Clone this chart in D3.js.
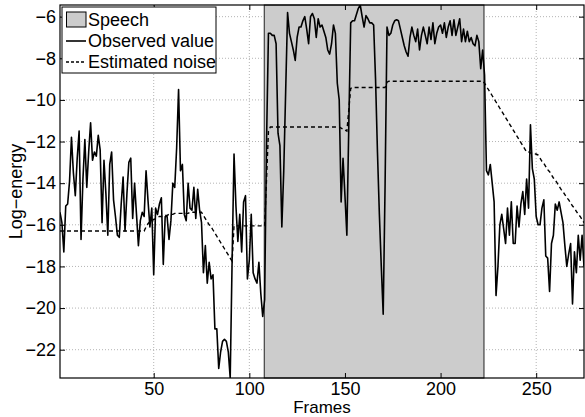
<!DOCTYPE html>
<html>
<head>
<meta charset="utf-8">
<script src="https://cdn.jsdelivr.net/npm/d3@7"></script>
<style>
  body { margin: 0; background: #fff; }
  svg { display: block; font-family: "Liberation Sans", Arial, sans-serif; }
</style>
</head>
<body>
<svg id="chart" width="585" height="417"></svg>
<script>
// log-energy per frame (frames 1..275)
const observed = [
  -15.4, -15.9, -17.3, -15.1, -15.0, -13.9, -11.8, -13.5, -14.6, -12.8,
  -11.5, -16.7, -13.8, -11.9, -14.2, -12.5, -11.1, -12.9, -12.5, -12.7,
  -11.7, -12.4, -15.9, -12.9, -14.5, -16.5, -13.1, -12.5, -14.8, -15.6,
  -16.5, -16.6, -15.0, -13.7, -16.3, -14.5, -13.0, -12.8, -15.7, -14.0,
  -15.5, -17.0, -15.8, -15.4, -15.6, -13.4, -14.8, -16.1, -15.2, -18.4,
  -15.2, -15.5, -15.0, -14.7, -17.9, -15.6, -15.6, -16.7, -15.8, -14.0,
  -14.2, -12.3, -9.5, -13.4, -13.1, -15.5, -15.8, -14.0, -15.2, -15.3,
  -14.2, -15.7, -14.3, -15.3, -15.9, -18.3, -17.0, -18.8, -17.8, -18.6,
  -18.4, -21.0, -21.0, -22.9, -22.1, -21.6, -21.5, -21.6, -22.1, -23.36,
  -17.7, -12.6, -15.1, -16.8, -15.5, -17.3, -14.9, -14.6, -18.6, -17.7,
  -15.5, -18.3, -18.6, -18.8, -17.8, -19.3, -20.4, -19.6, -12.0, -6.8,
  -6.8, -6.9, -6.9, -7.3, -11.6, -12.2, -16.1, -13.4, -9.6, -5.8,
  -6.8, -7.2, -7.6, -8.1, -7.0, -6.5, -6.5, -6.2, -6.0, -6.6,
  -7.3, -6.0, -5.85, -6.1, -7.0, -6.1, -6.5, -6.4, -6.7, -7.0,
  -7.6, -7.8, -7.3, -6.4, -6.8, -9.2, -10.0, -14.9, -12.8, -14.6,
  -16.5, -11.3, -6.3, -6.2, -6.2, -5.9, -5.6, -5.44, -6.0, -6.5,
  -5.95, -6.1, -6.3, -6.3, -6.4, -9.0, -12.5, -15.5, -18.0, -20.3,
  -14.0, -6.5, -6.9, -6.8, -6.4, -6.2, -6.15, -6.2, -6.6, -7.0,
  -7.4, -7.7, -7.9, -7.0, -6.5, -6.9, -7.2, -6.6, -7.6, -6.9,
  -6.5, -6.9, -7.3, -6.5, -7.1, -6.3, -7.3, -6.8, -6.5, -6.4,
  -6.8, -6.3, -7.0, -6.5, -6.2, -6.9, -6.15, -6.9, -6.5, -6.1,
  -7.2, -6.6, -7.2, -6.7, -7.2, -7.0, -7.3, -7.4, -6.9, -7.2,
  -8.5, -7.6, -8.8, -13.4, -13.6, -13.1, -14.0, -14.9, -19.4, -18.0,
  -16.0, -15.5, -16.2, -16.9, -15.2, -16.5, -14.9, -16.9, -16.9, -15.1,
  -16.1, -15.0, -14.4, -15.5, -13.8, -15.2, -11.2, -13.3, -13.8, -15.6,
  -16.0, -16.0, -15.2, -14.8, -17.5, -17.6, -19.2, -16.9, -16.5, -15.0,
  -15.3, -14.9, -15.4, -15.9, -17.0, -18.0, -17.4, -16.9, -19.8, -17.3,
  -18.3, -16.5, -17.7, -16.5, -18.0
];

// estimated noise level per frame
const noise = [
  -16.3, -16.3, -16.3, -16.3, -16.3, -16.3, -16.3, -16.3, -16.3, -16.3,
  -16.3, -16.3, -16.3, -16.3, -16.3, -16.3, -16.3, -16.3, -16.3, -16.3,
  -16.3, -16.3, -16.3, -16.3, -16.3, -16.3, -16.3, -16.3, -16.3, -16.3,
  -16.3, -16.3, -16.3, -16.3, -16.3, -16.3, -16.3, -16.3, -16.3, -16.3,
  -16.3, -16.3, -16.3, -16.3, -16.3, -16.1, -15.95, -15.85, -15.8, -15.75,
  -15.7, -15.65, -15.6, -15.6, -15.6, -15.55, -15.55, -15.5, -15.5, -15.5,
  -15.45, -15.45, -15.45, -15.45, -15.45, -15.45, -15.45, -15.45, -15.4, -15.4,
  -15.4, -15.4, -15.4, -15.4, -15.4, -15.55, -15.7, -15.85, -16.0, -16.1,
  -16.25, -16.4, -16.55, -16.7, -16.85, -17.0, -17.15, -17.3, -17.45, -17.6,
  -17.75, -16.05, -16.05, -16.05, -16.05, -16.05, -16.05, -16.05, -16.05, -16.05,
  -16.05, -16.05, -16.05, -16.05, -16.05, -16.05, -16.05, -16.05, -13.8, -11.5,
  -11.3, -11.3, -11.3, -11.3, -11.3, -11.3, -11.3, -11.3, -11.3, -11.3,
  -11.3, -11.3, -11.3, -11.3, -11.3, -11.3, -11.3, -11.3, -11.3, -11.3,
  -11.3, -11.3, -11.3, -11.3, -11.3, -11.3, -11.3, -11.3, -11.3, -11.3,
  -11.3, -11.3, -11.3, -11.3, -11.3, -11.3, -11.3, -11.35, -11.4, -11.45,
  -11.5, -10.5, -9.45, -9.4, -9.4, -9.4, -9.4, -9.4, -9.4, -9.4,
  -9.4, -9.4, -9.4, -9.4, -9.4, -9.4, -9.4, -9.4, -9.4, -9.4,
  -9.4, -9.15, -9.1, -9.1, -9.1, -9.1, -9.1, -9.1, -9.1, -9.1,
  -9.1, -9.1, -9.1, -9.1, -9.1, -9.1, -9.1, -9.1, -9.1, -9.1,
  -9.1, -9.1, -9.1, -9.1, -9.1, -9.1, -9.1, -9.1, -9.1, -9.1,
  -9.1, -9.1, -9.1, -9.1, -9.1, -9.1, -9.1, -9.1, -9.1, -9.1,
  -9.1, -9.1, -9.1, -9.1, -9.1, -9.1, -9.1, -9.1, -9.1, -9.1,
  -9.1, -9.1, -9.2, -9.35, -9.5, -9.65, -9.8, -9.95, -10.1, -10.25,
  -10.4, -10.55, -10.7, -10.85, -11.0, -11.15, -11.3, -11.45, -11.6, -11.75,
  -11.9, -12.05, -12.2, -12.35, -12.5, -12.5, -12.55, -12.55, -12.6, -12.6,
  -12.65, -12.8, -12.95, -13.05, -13.2, -13.35, -13.45, -13.6, -13.75, -13.85,
  -14.0, -14.15, -14.3, -14.4, -14.55, -14.7, -14.8, -14.95, -15.1, -15.2,
  -15.35, -15.5, -15.6, -15.75, -15.9
];

const speechRegion = [107.8, 222.7];
const xTicks = [50, 100, 150, 200, 250];
const yTicks = [-22, -20, -18, -16, -14, -12, -10, -8, -6];
const legendLabels = ["Speech", "Observed value", "Estimated noise"];

document.addEventListener("DOMContentLoaded", function () {
  const left = 60, right = 584, top = 5, bottom = 378;

  const svg = d3.select("#chart");

  const x = d3.scaleLinear().domain([1, observed.length]).range([left, right]);
  const y = d3.scaleLinear().domain(d3.extent(observed)).range([bottom, top]);

  svg.append("defs").append("clipPath").attr("id", "plotClip")
    .append("rect")
    .attr("x", left).attr("y", top)
    .attr("width", right - left).attr("height", bottom - top);

  // dotted grid
  const grid = svg.append("g").attr("stroke", "#b4b4b4").attr("stroke-dasharray", "1,2");
  grid.selectAll(".gx").data(xTicks).enter().append("line")
    .attr("x1", (d) => x(d)).attr("x2", (d) => x(d))
    .attr("y1", top).attr("y2", bottom);
  grid.selectAll(".gy").data(yTicks).enter().append("line")
    .attr("x1", left).attr("x2", right)
    .attr("y1", (d) => y(d)).attr("y2", (d) => y(d));

  // speech patch
  svg.append("rect")
    .attr("x", x(speechRegion[0]))
    .attr("y", top)
    .attr("width", x(speechRegion[1]) - x(speechRegion[0]))
    .attr("height", bottom - top)
    .attr("fill", "#cccccc")
    .attr("stroke", "#222")
    .attr("stroke-width", 1);

  const line = d3.line()
    .x((d, i) => x(i + 1))
    .y((d) => y(d));

  const plot = svg.append("g").attr("clip-path", "url(#plotClip)");

  plot.append("path")
    .datum(observed)
    .attr("d", line)
    .attr("fill", "none")
    .attr("stroke", "#000")
    .attr("stroke-width", 1.6)
    .attr("stroke-linejoin", "round");

  plot.append("path")
    .datum(noise)
    .attr("d", line)
    .attr("fill", "none")
    .attr("stroke", "#000")
    .attr("stroke-width", 1.4)
    .attr("stroke-dasharray", "4,3");

  // axes
  const xAxis = svg.append("g")
    .attr("transform", "translate(0," + bottom + ")")
    .call(d3.axisBottom(x).tickValues(xTicks).tickSize(-5).tickSizeOuter(0).tickPadding(4));
  const yAxis = svg.append("g")
    .attr("transform", "translate(" + left + ",0)")
    .call(d3.axisLeft(y).tickValues(yTicks).tickSize(-5).tickSizeOuter(0).tickPadding(4));
  svg.append("g")
    .attr("transform", "translate(0," + top + ")")
    .call(d3.axisTop(x).tickValues(xTicks).tickSize(-5).tickSizeOuter(0).tickFormat(""));
  svg.append("g")
    .attr("transform", "translate(" + right + ",0)")
    .call(d3.axisRight(y).tickValues(yTicks).tickSize(-5).tickSizeOuter(0).tickFormat(""));

  svg.selectAll(".domain").remove();
  svg.selectAll(".tick line").attr("stroke", "#000");
  [xAxis, yAxis].forEach((g) => {
    g.selectAll("text")
      .attr("font-size", 18)
      .attr("font-family", "Liberation Sans, Arial, sans-serif")
      .attr("fill", "#000");
  });

  svg.append("rect")
    .attr("x", left).attr("y", top)
    .attr("width", right - left).attr("height", bottom - top)
    .attr("fill", "none")
    .attr("stroke", "#000")
    .attr("stroke-width", 1.2);

  // axis labels
  svg.append("text")
    .attr("x", (left + right) / 2)
    .attr("y", 413)
    .attr("text-anchor", "middle")
    .attr("font-size", 17)
    .text("Frames");

  svg.append("text")
    .attr("transform", "translate(22," + (top + bottom) / 2 + ") rotate(-90)")
    .attr("text-anchor", "middle")
    .attr("font-size", 18)
    .text("Log\u2212energy");

  // legend
  const legend = svg.append("g");
  legend.append("rect")
    .attr("x", 62).attr("y", 7)
    .attr("width", 154).attr("height", 66)
    .attr("fill", "#fff")
    .attr("stroke", "#000")
    .attr("stroke-width", 1);

  const rowY = [19.5, 41, 62];
  legend.append("rect")
    .attr("x", 66.5).attr("y", rowY[0] - 7.5)
    .attr("width", 19.5).attr("height", 15)
    .attr("fill", "#cccccc")
    .attr("stroke", "#000");
  legend.append("line")
    .attr("x1", 66).attr("x2", 86)
    .attr("y1", rowY[1]).attr("y2", rowY[1])
    .attr("stroke", "#000").attr("stroke-width", 1.6);
  legend.append("line")
    .attr("x1", 66).attr("x2", 86)
    .attr("y1", rowY[2]).attr("y2", rowY[2])
    .attr("stroke", "#000").attr("stroke-width", 1.4)
    .attr("stroke-dasharray", "3,2");

  legend.selectAll(".label")
    .data(legendLabels)
    .enter()
    .append("text")
    .attr("x", 88)
    .attr("y", (d, i) => rowY[i])
    .attr("dy", "0.36em")
    .attr("font-size", 18)
    .text((d) => d);
});
</script>
</body>
</html>
